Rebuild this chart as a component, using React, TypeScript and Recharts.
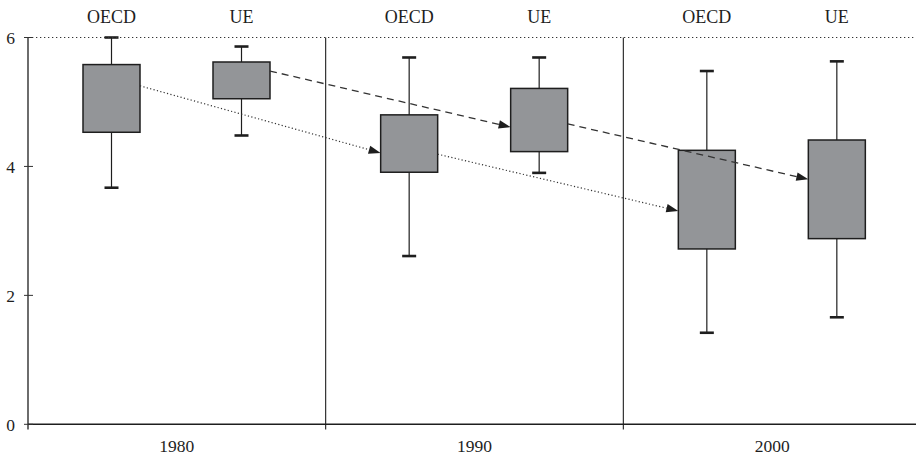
import React from 'react';
import { BarChart, Bar, XAxis, YAxis, ReferenceLine } from 'recharts';

// Decades on the category axis
const years = ['1980', '1990', '2000'];

// Box plot statistics per decade
const oecdMin = [3.67, 2.61, 1.42];
const oecdQ1 = [4.53, 3.91, 2.72];
const oecdQ3 = [5.58, 4.8, 4.25];
const oecdMax = [6.0, 5.69, 5.48];

const ueMin = [4.48, 3.9, 1.66];
const ueQ1 = [5.05, 4.23, 2.88];
const ueQ3 = [5.62, 5.21, 4.41];
const ueMax = [5.86, 5.69, 5.63];

// Trend arrows: value where each arrow leaves a box and where it reaches the next one
const oecdTrendFrom = [5.25, 4.19];
const oecdTrendTo = [4.21, 3.31];
const ueTrendFrom = [5.48, 4.66];
const ueTrendTo = [4.61, 3.8];

const yTicks = [0, 2, 4, 6];

const seriesNames = { oecd: 'OECD', ue: 'UE' };

// layout
const CHART_W = 921;
const CHART_H = 455;
const AXIS_W = 28;
const BAR_SIZE = 57;
const BAR_GAP = 73;
const BAND = (CHART_W - AXIS_W) / years.length;
const barOffset = Math.floor((BAND - (2 * BAR_SIZE + BAR_GAP)) / 2);
// box centres as a fraction of the band
const OECD_POS = (barOffset + BAR_SIZE / 2) / BAND;
const UE_POS = (barOffset + BAR_SIZE + BAR_GAP + BAR_SIZE / 2) / BAND;
const HALF_BOX = BAR_SIZE / 2 / BAND;

const FONT = "'Liberation Serif', serif";
const INK = '#1e1e1e';

const data = years.map((year, i) => ({
  year,
  oecd: { min: oecdMin[i], q1: oecdQ1[i], q3: oecdQ3[i], max: oecdMax[i] },
  ue: { min: ueMin[i], q1: ueQ1[i], q3: ueQ3[i], max: ueMax[i] },
}));

const makeBox = (key: 'oecd' | 'ue') => (props: any) => {
  const { x, y, width, height, payload } = props;
  const s = payload[key];
  const top = Math.min(y, y + height);
  const h = Math.abs(height);
  const ppu = h / (s.max - s.min);
  const yOf = (v: number) => top + (s.max - v) * ppu;
  const cx = x + width / 2;
  const plotTop = yOf(6);
  return (
    <g>
      <line x1={cx} x2={cx} y1={yOf(s.max)} y2={yOf(s.min)} stroke={INK} strokeWidth={1.2} />
      <line x1={cx - 7} x2={cx + 7} y1={yOf(s.max)} y2={yOf(s.max)} stroke={INK} strokeWidth={2.6} />
      <line x1={cx - 7} x2={cx + 7} y1={yOf(s.min)} y2={yOf(s.min)} stroke={INK} strokeWidth={2.6} />
      <rect
        x={x}
        y={yOf(s.q3)}
        width={width}
        height={yOf(s.q1) - yOf(s.q3)}
        fill="#939598"
        stroke={INK}
        strokeWidth={1.5}
      />
      <text x={cx} y={plotTop - 15} textAnchor="middle" fontFamily={FONT} fontSize={18} fill={INK}>
        {seriesNames[key]}
      </text>
    </g>
  );
};

// segment comes in at band starts; move the ends to the box edges
const makeArrow = (pos: number) => (props: any) => {
  const { x1: bx1, y1, x2: bx2, y2, stroke, strokeDasharray, strokeWidth } = props;
  const band = bx2 - bx1;
  const x1 = bx1 + (pos + HALF_BOX) * band;
  const x2 = bx2 + (pos - HALF_BOX) * band;
  const dx = x2 - x1;
  const dy = y2 - y1;
  const len = Math.hypot(dx, dy) || 1;
  const ux = dx / len;
  const uy = dy / len;
  const hl = 12;
  const hw = 4.2;
  const hx = x2 - ux * hl;
  const hy = y2 - uy * hl;
  return (
    <g>
      <line
        x1={x1}
        y1={y1}
        x2={hx}
        y2={hy}
        stroke={stroke}
        strokeDasharray={strokeDasharray}
        strokeWidth={strokeWidth}
      />
      <polygon
        points={`${x2},${y2} ${hx - uy * hw},${hy + ux * hw} ${hx + uy * hw},${hy - ux * hw}`}
        fill={INK}
      />
    </g>
  );
};

const YTick = (props: any) => {
  const { x, y, payload } = props;
  const ax = x + 7;
  return (
    <g>
      <line x1={ax - 4} x2={ax + 5} y1={y} y2={y} stroke="#333" strokeWidth={1} />
      <text x={ax - 13} y={y} dy="0.36em" textAnchor="end" fontFamily={FONT} fontSize={17.5} fill={INK}>
        {payload.value}
      </text>
    </g>
  );
};

export default function App() {
  const arrows = [
    ...oecdTrendFrom.map((v, i) => ({ from: v, to: oecdTrendTo[i], g: i, pos: OECD_POS, dash: '1.2 2.3', w: 1.2 })),
    ...ueTrendFrom.map((v, i) => ({ from: v, to: ueTrendTo[i], g: i, pos: UE_POS, dash: '7 5', w: 1.3 })),
  ];
  return (
    <div
      style={{
        position: 'absolute',
        left: 0,
        top: 0,
        width: 916,
        height: 455,
        overflow: 'hidden',
        background: '#fff',
      }}
    >
      <BarChart
        width={CHART_W}
        height={CHART_H}
        data={data}
        barSize={BAR_SIZE}
        barGap={BAR_GAP}
        margin={{ top: 37.5, right: 0, bottom: 0, left: 0 }}
      >
        <XAxis
          dataKey="year"
          height={30.7}
          tickLine={false}
          tickSize={0}
          tickMargin={15}
          axisLine={{ stroke: INK, strokeWidth: 1.6 }}
          tick={{ fontFamily: FONT, fontSize: 17.5, fill: INK }}
        />
        <YAxis
          width={AXIS_W}
          domain={[0, 6]}
          ticks={yTicks}
          axisLine={false}
          tickLine={false}
          tickSize={3}
          tickMargin={4}
          tick={<YTick />}
        />
        <ReferenceLine y={6} stroke="#333" strokeDasharray="1.3 2.7" strokeWidth={1.2} />
        {years.map((yr, g) => (
          <ReferenceLine
            key={`sep-${yr}`}
            ifOverflow="visible"
            position="start"
            segment={[
              { x: yr, y: -0.08 },
              { x: yr, y: 6 },
            ]}
            stroke={INK}
            strokeWidth={g === 0 ? 1.3 : 1.1}
          />
        ))}
        <Bar
          dataKey={(d: any) => [d.oecd.min, d.oecd.max]}
          shape={makeBox('oecd')}
          isAnimationActive={false}
        />
        <Bar
          dataKey={(d: any) => [d.ue.min, d.ue.max]}
          shape={makeBox('ue')}
          isAnimationActive={false}
        />
        {arrows.map((a, i) => (
          <ReferenceLine
            key={`arrow-${i}`}
            ifOverflow="visible"
            position="start"
            zIndex={900}
            segment={[
              { x: years[a.g], y: a.from },
              { x: years[a.g + 1], y: a.to },
            ]}
            stroke="#333"
            strokeDasharray={a.dash}
            strokeWidth={a.w}
            shape={makeArrow(a.pos)}
          />
        ))}
      </BarChart>
    </div>
  );
}
